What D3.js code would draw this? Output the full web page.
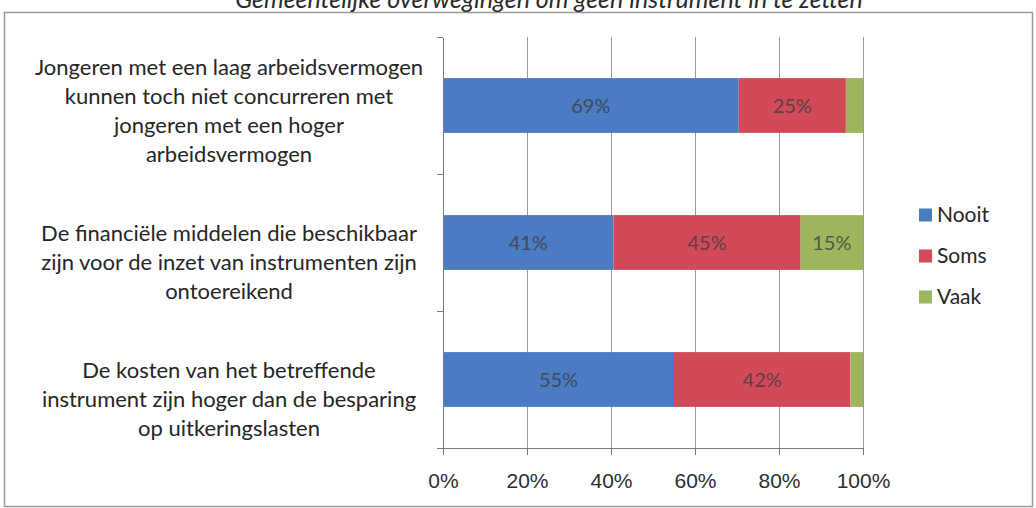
<!DOCTYPE html>
<html lang="nl">
<head>
<meta charset="UTF-8">
<title>Gemeentelijke overwegingen om geen instrument in te zetten</title>
<style>
  body {
    margin: 0;
    background: #fff;
  }
  svg {
    display: block;
    font-family: Lato, "Open Sans", sans-serif;
  }
  .axis path,
  .axis line {
    stroke: #7a7a7a;
    shape-rendering: crispEdges;
  }
  .grid line {
    stroke: #9a9a9a;
    shape-rendering: crispEdges;
  }
  .grid path {
    display: none;
  }
  .tick text {
    font-size: 21px;
    fill: #2e2e2e;
  }
  .cat {
    font-size: 22px;
    fill: #262626;
    text-anchor: middle;
  }
  .val {
    font-size: 20px;
    fill: #3d3d3d;
    fill-opacity: 0.8;
    text-anchor: middle;
  }
  .legend text {
    font-size: 21px;
    fill: #262626;
  }
</style>
</head>
<body>
<div id="chart"></div>
<script src="https://cdnjs.cloudflare.com/ajax/libs/d3/7.8.5/d3.min.js"></script>
<script>
var title = "Gemeentelijke overwegingen om geen instrument in te zetten";

var categories = [
  "Jongeren met een laag arbeidsvermogen\nkunnen toch niet concurreren met\njongeren met een hoger\narbeidsvermogen",
  "De financiële middelen die beschikbaar\nzijn voor de inzet van instrumenten zijn\nontoereikend",
  "De kosten van het betreffende\ninstrument zijn hoger dan de besparing\nop uitkeringslasten"
];
var seriesNames = ["Nooit", "Soms", "Vaak"];
var nooit = [69, 41, 55];
var soms = [25, 45, 42];
var vaak = [4, 15, 3];
var xTicks = [0, 0.2, 0.4, 0.6, 0.8, 1];
var colors = ["#4a7bc3", "#d24a5a", "#9db55c"];

var W = 1036, H = 508;
var plot = { left: 443, right: 863, top: 37, bottom: 448 };

var rows = categories.map(function (c, i) {
  return { cat: c, Nooit: nooit[i], Soms: soms[i], Vaak: vaak[i] };
});

var stack = d3.stack().keys(seriesNames).offset(d3.stackOffsetExpand);
var layers = stack(rows);

var x = d3.scaleLinear().domain([0, 1]).range([plot.left, plot.right]);
var y = d3.scaleBand().domain(categories)
  .range([plot.top, plot.bottom])
  .paddingInner(0.6).paddingOuter(0.3);
var yEdge = d3.scaleLinear().domain([0, categories.length]).range([plot.top, plot.bottom]);

var svg = d3.select("#chart").append("svg")
  .attr("width", W)
  .attr("height", H);

// outer frame of the scanned chart
svg.append("rect")
  .attr("x", 4.5).attr("y", 12.5)
  .attr("width", 1028).attr("height", 494)
  .attr("fill", "none")
  .attr("stroke", "#9a9a9a")
  .attr("stroke-width", 1.5);

// title, cut off at the top of the scan
svg.append("text")
  .attr("x", 549).attr("y", 8)
  .attr("text-anchor", "middle")
  .style("font-size", "25px")
  .style("font-style", "italic")
  .style("fill", "#2b2b2b")
  .text(title);

// vertical gridlines
svg.append("g")
  .attr("class", "grid")
  .attr("transform", "translate(0," + plot.bottom + ")")
  .call(d3.axisBottom(x).tickValues(xTicks.slice(1)).tickSize(-(plot.bottom - plot.top)).tickFormat(""));

// bars
var layer = svg.selectAll(".layer")
  .data(layers)
  .enter().append("g")
  .attr("class", "layer")
  .attr("fill", function (d, i) { return colors[i]; });

layer.selectAll("rect")
  .data(function (d) { return d; })
  .enter().append("rect")
  .attr("x", function (d) { return x(d[0]); })
  .attr("y", function (d) { return y(d.data.cat); })
  .attr("width", function (d) { return x(d[1]) - x(d[0]); })
  .attr("height", y.bandwidth());

// value labels
layers.forEach(function (l) {
  svg.append("g").selectAll("text")
    .data(l.filter(function (d) { return d.data[l.key] >= 10; }))
    .enter().append("text")
    .attr("class", "val")
    .attr("x", function (d) { return (x(d[0]) + x(d[1])) / 2; })
    .attr("y", function (d) { return y(d.data.cat) + y.bandwidth() / 2; })
    .attr("dy", "0.35em")
    .text(function (d) { return d.data[l.key] + "%"; });
});

// x axis
svg.append("g")
  .attr("class", "axis")
  .attr("transform", "translate(0," + plot.bottom + ")")
  .call(d3.axisBottom(x).tickValues(xTicks).tickSize(7).tickSizeOuter(0).tickPadding(18)
    .tickFormat(d3.format(".0%")));

// y axis with ticks between categories
svg.append("g")
  .attr("class", "axis")
  .attr("transform", "translate(" + plot.left + ",0)")
  .call(d3.axisLeft(yEdge).ticks(categories.length).tickSize(6).tickSizeOuter(0).tickFormat(""));

// category labels, anchored at the bottom line
categories.forEach(function (c) {
  var lines = c.split("\n");
  var cy = y(c) + y.bandwidth() / 2;
  var t = svg.append("text").attr("class", "cat");
  lines.forEach(function (line, i) {
    t.append("tspan")
      .attr("x", 229)
      .attr("y", cy + 49 - (lines.length - 1 - i) * 29)
      .attr("dy", "0.35em")
      .text(line);
  });
});

// legend
var legend = svg.append("g").attr("class", "legend")
  .selectAll("g")
  .data(seriesNames)
  .enter().append("g")
  .attr("transform", function (d, i) { return "translate(919," + (215 + i * 41) + ")"; });

legend.append("rect")
  .attr("x", 0).attr("y", -6.5)
  .attr("width", 13).attr("height", 13)
  .attr("fill", function (d, i) { return colors[i]; });

legend.append("text")
  .attr("x", 18)
  .attr("dy", "0.35em")
  .text(function (d) { return d; });
</script>
</body>
</html>
